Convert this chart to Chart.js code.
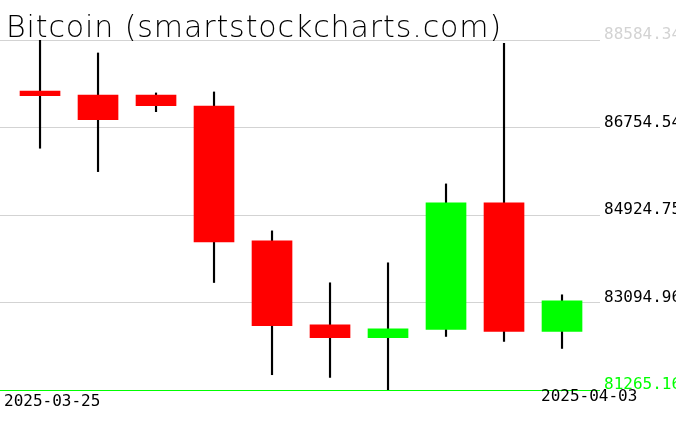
<!DOCTYPE html>
<html><head><meta charset="utf-8">
<script src="https://cdn.jsdelivr.net/npm/chart.js@4"></script>
<style>html,body{margin:0;padding:0;background:#fff;}#wrap{width:676px;height:431px;}</style>
</head><body><div id="wrap"><canvas id="c"></canvas></div>
<script>
const titleText = "Bitcoin (smartstockcharts.com)";
const dates = ["2025-03-25","2025-03-26","2025-03-27","2025-03-28","2025-03-29","2025-03-30","2025-03-31","2025-04-01","2025-04-02","2025-04-03"];
const opens  = [87518, 87435, 87435, 87205, 84385, 82630, 82358, 82531, 85178, 82489];
const highs  = [88584.34, 88313, 87477, 87498, 84593, 83507, 83925, 85575, 88515, 83256];
const lows   = [86321, 85832, 87086, 83513, 81585, 81528, 81265.16, 82385, 82281, 82134];
const closes = [87420, 86919, 87212, 84364, 82608, 82358, 82546, 85178, 82489, 83131];
const yTicks = [81265.16, 83094.96, 84924.75, 86754.54, 88584.34];
const yTickLabels = ["81265.16", "83094.96", "84924.75", "86754.54", "88584.34"];

const idx = dates.map((d,i)=>i);
const bodyColors = idx.map(i => closes[i] >= opens[i] ? "#00ff00" : "#ff0000");

const decor = {
  id: "decor",
  afterDraw(chart) {
    const ctx = chart.ctx;
    ctx.save();
    ctx.fillStyle = "#000";
    ctx.font = "200 30px 'DejaVu Sans'";
    ctx.letterSpacing = "0.9px";
    ctx.textBaseline = "alphabetic";
    ctx.textAlign = "left";
    ctx.fillText(titleText, 6, 37);
    ctx.letterSpacing = "0px";
    ctx.font = "16px 'DejaVu Sans Mono'";
    ctx.fillText(dates[0], 4, 406);
    ctx.fillText(dates[dates.length-1], 541, 401);
    ctx.restore();
  }
};

new Chart(document.getElementById("c"), {
  type: "bar",
  data: {
    datasets: [
      {
        label: "wick",
        data: idx.map(i => ({x: i, y: [lows[i], highs[i]]})),
        backgroundColor: "#000",
        barThickness: 1.5,
        grouped: false,
        order: 2,
        borderWidth: 0
      },
      {
        label: "body",
        data: idx.map(i => ({x: i, y: [opens[i], closes[i]]})),
        backgroundColor: bodyColors,
        barThickness: 40,
        grouped: false,
        order: 1,
        borderWidth: 0
      }
    ]
  },
  options: {
    responsive: true,
    maintainAspectRatio: false,
    animation: false,
    layout: { padding: { top: 40, bottom: 41, left: 0, right: 0 } },
    plugins: { legend: { display: false }, tooltip: { enabled: false }, title: { display: false } },
    scales: {
      x: {
        type: "linear",
        offset: false,
        min: -0.69,
        max: 9.655,
        display: false
      },
      y: {
        type: "linear",
        position: "right",
        min: yTicks[0],
        max: yTicks[yTicks.length-1],
        z: 1,
        afterBuildTicks(scale) { scale.ticks = yTicks.map(v => ({value: v})); },
        afterFit(scale) { scale.width = 76; },
        border: { display: false },
        grid: {
          drawTicks: false,
          tickLength: 0,
          lineWidth: 1,
          color: ctx => ctx.index === 0 ? "#00ff00" : "#d3d3d3"
        },
        ticks: {
          padding: 4,
          labelOffset: -5,
          font: { family: "'DejaVu Sans Mono'", size: 16 },
          color: ctx => ctx.index === 0 ? "#00ff00" : (ctx.index === yTicks.length-1 ? "#d3d3d3" : "#000"),
          callback: (v, i) => yTickLabels[i]
        }
      }
    }
  },
  plugins: [decor]
});
</script>
</body></html>
